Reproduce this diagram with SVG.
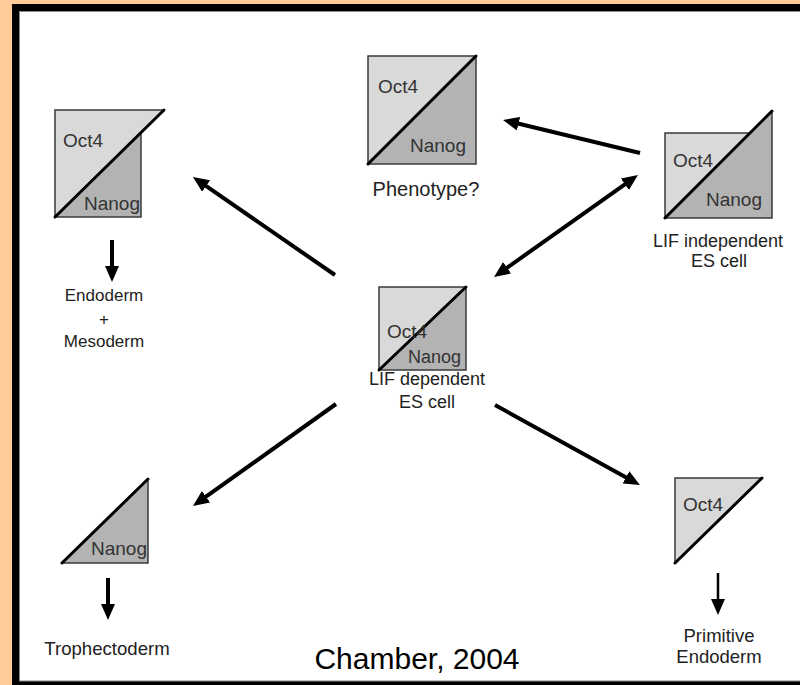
<svg xmlns="http://www.w3.org/2000/svg" width="800" height="685" viewBox="0 0 800 685">
<style>
.light{fill:#d9d9d9}
.dark{fill:#b3b3b3}
.outl{fill:none;stroke:#3a3a3a;stroke-width:1.5}
.diag{stroke:#000;stroke-width:3;stroke-linecap:round}
.gene{font-family:"Liberation Sans",Arial,sans-serif;font-size:19px;fill:#333}
.lbl{font-family:"Liberation Sans",Arial,sans-serif;font-size:18px;fill:#222;text-anchor:middle}
.arr{stroke:#000;stroke-width:4;fill:none}
</style>
<defs>
<marker id="ah" markerUnits="userSpaceOnUse" markerWidth="16" markerHeight="14" viewBox="0 0 16 14" refX="6" refY="7" orient="auto-start-reverse">
<path d="M0,0 L16,7 L0,14 z" fill="#000"/>
</marker>
</defs>
<rect x="0" y="0" width="800" height="685" fill="#ffcc99"/>
<rect x="12" y="4" width="800" height="700" fill="#000"/>
<rect x="19.5" y="11.5" width="800" height="669.5" fill="#fff" stroke="#888" stroke-width="1"/>

<g id="connectors">
<line class="arr" x1="335" y1="275" x2="201.2" y2="182.7" marker-end="url(#ah)"/>
<line class="arr" x1="640" y1="153" x2="512.7" y2="122.3" marker-end="url(#ah)"/>
<line class="arr" x1="502.2" y1="271.2" x2="629.8" y2="180.8" marker-start="url(#ah)" marker-end="url(#ah)"/>
<line class="arr" x1="336" y1="404" x2="201.1" y2="500.2" marker-end="url(#ah)"/>
<line class="arr" x1="495" y1="405" x2="631.2" y2="480.2" marker-end="url(#ah)"/>
<line class="arr" x1="112" y1="240" x2="112" y2="272" marker-end="url(#ah)"/>
<line class="arr" x1="108" y1="578" x2="108" y2="610" marker-end="url(#ah)"/>
<line class="arr" style="stroke-width:2.5" x1="718" y1="573" x2="718" y2="605" marker-end="url(#ah)"/>
</g>

<g id="node-tl">
<polygon class="light" points="55,110 164,110 55,217"/>
<polygon class="dark" points="55,217 141,132.6 141,217"/>
<path class="outl" d="M141,132.6 V217 H55 V110 H164"/>
<line class="diag" x1="55" y1="217" x2="164" y2="110"/>
<text class="gene" x="63" y="147">Oct4</text>
<text class="gene" x="84" y="210">Nanog</text>
<text class="lbl" style="font-size:17px" x="104" y="301">Endoderm</text>
<text class="lbl" style="font-size:17px" x="104" y="325">+</text>
<text class="lbl" style="font-size:17px" x="104" y="347">Mesoderm</text>
</g>

<g id="node-tc">
<polygon class="light" points="368,56 476,56 368,164"/>
<polygon class="dark" points="476,56 476,164 368,164"/>
<rect class="outl" x="368" y="56" width="108" height="108"/>
<line class="diag" x1="368" y1="164" x2="476" y2="56"/>
<text class="gene" x="378" y="93">Oct4</text>
<text class="gene" x="410" y="152">Nanog</text>
<text class="lbl" style="font-size:20px" x="426" y="196">Phenotype?</text>
</g>

<g id="node-tr">
<polygon class="light" points="665,133 750,133 665,218"/>
<polygon class="dark" points="665,218 772,111 772,218"/>
<path class="outl" d="M750,133 H665 V218 H772 V111"/>
<line class="diag" x1="665" y1="218" x2="772" y2="111"/>
<text class="gene" x="673" y="167">Oct4</text>
<text class="gene" x="706" y="206">Nanog</text>
<text class="lbl" x="718" y="247">LIF independent</text>
<text class="lbl" x="719" y="267">ES cell</text>
</g>

<g id="node-c">
<polygon class="light" points="379,287 466,287 379,370"/>
<polygon class="dark" points="466,287 466,370 379,370"/>
<rect class="outl" x="379" y="287" width="87" height="83"/>
<line class="diag" x1="379" y1="370" x2="466" y2="287"/>
<text class="gene" x="387" y="338">Oct4</text>
<text class="gene" style="font-size:18px" x="408" y="363">Nanog</text>
<text class="lbl" x="427" y="385">LIF dependent</text>
<text class="lbl" x="427" y="408">ES cell</text>
</g>

<g id="node-bl">
<polygon class="dark" points="62,563 148,479 148,563"/>
<path class="outl" d="M148,479 V563 H62"/>
<line class="diag" x1="62" y1="563" x2="148" y2="479"/>
<text class="gene" x="91" y="555">Nanog</text>
<text class="lbl" style="font-size:18.6px" x="107" y="655">Trophectoderm</text>
</g>

<g id="node-br">
<polygon class="light" points="675,478 762,478 675,563"/>
<path class="outl" d="M762,478 H675 V563"/>
<line class="diag" x1="675" y1="563" x2="762" y2="478"/>
<text class="gene" x="683" y="511">Oct4</text>
<text class="lbl" style="font-size:18.5px" x="719" y="642">Primitive</text>
<text class="lbl" style="font-size:18.5px" x="719" y="663">Endoderm</text>
</g>

<text id="caption" x="417" y="669" text-anchor="middle" font-family="'Liberation Sans',Arial,sans-serif" font-size="30" fill="#000">Chamber, 2004</text>
</svg>
